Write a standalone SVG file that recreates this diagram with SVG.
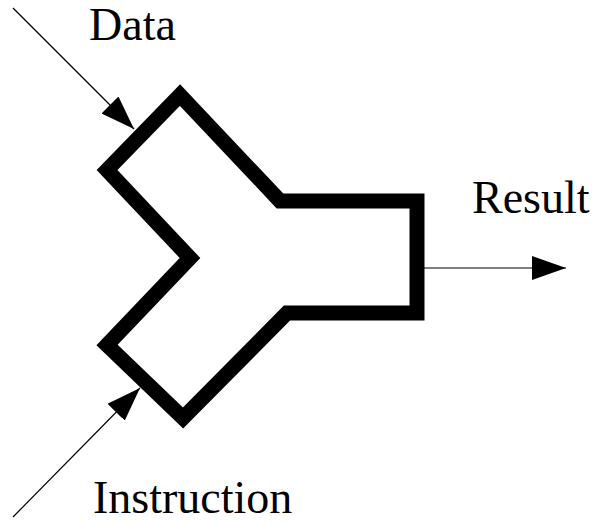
<svg xmlns="http://www.w3.org/2000/svg" width="599" height="523" viewBox="0 0 599 523">
<style>
.lbl{font-family:"Liberation Serif","Times New Roman",serif;font-size:46px;fill:#000}
.wire{stroke:#000;stroke-width:1.2;fill:none}
.body{stroke:#000;stroke-width:15;fill:#fff;stroke-linejoin:miter}
</style>
<defs>
<marker id="ah" viewBox="0 0 34 24" refX="34" refY="12" markerWidth="34" markerHeight="24" markerUnits="userSpaceOnUse" orient="auto">
<path d="M0,0 L34,12 L0,24 Z" fill="#000"/>
</marker>
</defs>
<g id="alu">
<path class="body" d="M280,201 L180,95 L107,170 L190,258 L107,345 L183,418 L287,313 L417,313 L417,201 Z"/>
</g>
<g id="connectors">
<line class="wire" x1="13" y1="8" x2="134" y2="129" marker-end="url(#ah)"/>
<line class="wire" x1="13" y1="517" x2="140" y2="388" marker-end="url(#ah)"/>
<line class="wire" x1="424" y1="268" x2="566" y2="268" marker-end="url(#ah)"/>
</g>
<g id="label-data"><text class="lbl" x="89" y="40">Data</text></g>
<g id="label-result"><text class="lbl" x="472" y="213">Result</text></g>
<g id="label-instruction"><text class="lbl" x="93" y="513">Instruction</text></g>
</svg>
